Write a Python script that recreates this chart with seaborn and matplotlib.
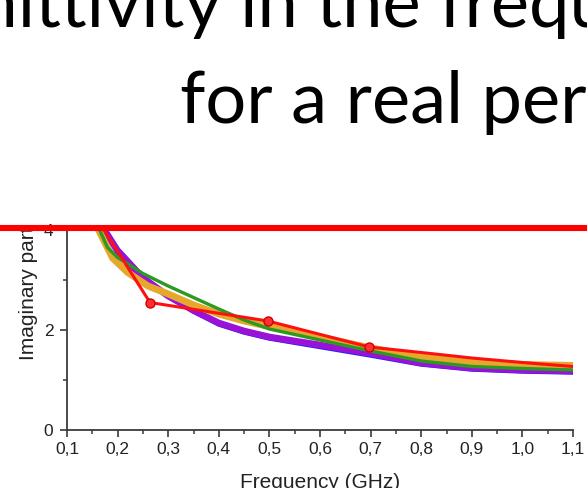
import matplotlib
matplotlib.use("Agg")
import matplotlib.pyplot as plt
import seaborn as sns
from matplotlib.lines import Line2D
from matplotlib.ticker import MultipleLocator, FuncFormatter
from matplotlib.transforms import Bbox, TransformedBbox

# ---- text ----
title_line1 = "Imaginary permittivity in the frequency domain"
title_line2 = "for a real permittivity"
x_label = "Frequency (GHz)"
y_label = "Imaginary part"

# ---- series (frequency in GHz, imaginary part) ----
blue_freq = [0.15, 0.17, 0.20, 0.25, 0.30, 0.35, 0.40, 0.45, 0.50, 0.60, 0.70, 0.80, 0.90, 1.00, 1.10]
blue_eps = [4.55, 4.10, 3.62, 3.07, 2.68, 2.37, 2.11, 1.95, 1.83, 1.66, 1.49, 1.31, 1.21, 1.17, 1.15]

purple_freq = [0.15, 0.17, 0.20, 0.25, 0.30, 0.35, 0.40, 0.45, 0.50, 0.60, 0.70, 0.80, 0.90, 1.00, 1.10]
purple_eps = [4.50, 4.06, 3.58, 3.04, 2.68, 2.39, 2.14, 1.98, 1.86, 1.70, 1.53, 1.34, 1.24, 1.20, 1.18]

orange_freq = [0.15, 0.16, 0.19, 0.22, 0.26, 0.30, 0.35, 0.40, 0.45, 0.50, 0.60, 0.70, 0.80, 0.90, 1.00, 1.10]
orange_eps = [4.30, 4.05, 3.44, 3.15, 2.88, 2.72, 2.50, 2.32, 2.18, 2.07, 1.86, 1.64, 1.46, 1.36, 1.31, 1.29]

green_freq = [0.15, 0.16, 0.18, 0.20, 0.23, 0.25, 0.30, 0.35, 0.40, 0.45, 0.50, 0.60, 0.70, 0.80, 0.90, 1.00, 1.10]
green_eps = [4.45, 4.10, 3.65, 3.45, 3.26, 3.13, 2.88, 2.65, 2.42, 2.20, 2.02, 1.80, 1.58, 1.38, 1.27, 1.23, 1.20]

red_freq = [0.15, 0.264, 0.497, 0.697, 0.80, 0.90, 1.00, 1.10]
red_eps = [4.37, 2.55, 2.18, 1.66, 1.55, 1.44, 1.35, 1.27]
red_marked = [False, True, True, True, False, False, False, False]

x_ticks = [0.1, 0.2, 0.3, 0.4, 0.5, 0.6, 0.7, 0.8, 0.9, 1.0, 1.1]
y_ticks = [0, 2, 4]

# ---- style ----
sns.set_theme(style="ticks")
plt.rcParams["font.family"] = ["Liberation Sans", "DejaVu Sans"]

W, H = 587, 488
fig = plt.figure(figsize=(W / 100, H / 100), dpi=100)
fig.patch.set_facecolor("white")

ax_left, ax_right, ax_bottom, ax_top = 67, 573, 430, 228
ax = fig.add_axes([ax_left / W, 1 - ax_bottom / H,
                   (ax_right - ax_left) / W, (ax_bottom - ax_top) / H])
ax.set_facecolor("white")

sns.lineplot(x=blue_freq, y=blue_eps, ax=ax, color="#1f1fff", lw=3.2,
             estimator=None, sort=False, zorder=2)
sns.lineplot(x=purple_freq, y=purple_eps, ax=ax, color="#9a12d6", lw=4.8,
             estimator=None, sort=False, zorder=3)
sns.lineplot(x=orange_freq, y=orange_eps, ax=ax, color="#e6a82c", lw=5.0,
             estimator=None, sort=False, zorder=4)
sns.lineplot(x=green_freq, y=green_eps, ax=ax, color="#2c9a22", lw=2.4,
             estimator=None, sort=False, zorder=5)
marker_idx = [i for i, m in enumerate(red_marked) if m]
sns.lineplot(x=red_freq, y=red_eps, ax=ax, color="#ff1010", lw=2.2,
             marker="o", markersize=6.5, markevery=marker_idx,
             markerfacecolor="#ff3030", markeredgecolor="#d00000", markeredgewidth=1.0,
             estimator=None, sort=False, zorder=6)

ax.set_xlim(x_ticks[0], x_ticks[-1])
ax.set_ylim(0, (ax_bottom - ax_top) / 50)
ax.set_xticks(x_ticks)
ax.set_yticks(y_ticks)
ax.xaxis.set_minor_locator(MultipleLocator(0.05))
ax.yaxis.set_minor_locator(MultipleLocator(1))
ax.xaxis.set_major_formatter(FuncFormatter(lambda v, p: f"{v:.1f}".replace(".", ",")))
ax.yaxis.set_major_formatter(FuncFormatter(lambda v, p: f"{v:.0f}"))

sns.despine(ax=ax)
axis_color = "#3a3a3a"
for side in ("left", "bottom"):
    ax.spines[side].set_color(axis_color)
    ax.spines[side].set_linewidth(1.3)
ax.tick_params(axis="both", which="major", direction="out", length=4.8, width=1.2,
               color=axis_color, labelsize=12.5, labelcolor="#222222")
ax.tick_params(axis="both", which="minor", direction="out", length=3.0, width=1.1,
               color=axis_color)
ax.tick_params(axis="x", which="major", pad=3.5)
ax.tick_params(axis="y", which="major", pad=5)

ax.set_xlabel(x_label, fontsize=15, color="#222222")
ax.xaxis.set_label_coords(0.5, -(473 - ax_bottom) / (ax_bottom - ax_top))
ax.set_ylabel(y_label, fontsize=15, color="#222222", ha="left", va="center",
              rotation=90, rotation_mode="anchor")
ax.yaxis.set_label_coords((29 - ax_left) / (ax_right - ax_left),
                          (ax_bottom - 360) / (ax_bottom - ax_top))
ylab = ax.yaxis.label
ylab.set_clip_on(True)
ylab.set_clip_box(TransformedBbox(Bbox([[0, 0], [1, 1 - 225 / H]]), fig.transFigure))

# ---- slide heading ----
title_font = dict(fontsize=52, family=["Lato", "DejaVu Sans"], color="black")
renderer = fig.canvas.get_renderer()
probe = fig.text(0, 0, "Imaginary permittivity in the f", **title_font)
prefix_w = probe.get_window_extent(renderer).width
probe.remove()
fig.text((465 - prefix_w) / W, 1 - 27 / H, title_line1, ha="left", va="baseline", **title_font)
fig.text(180 / W, 1 - 123 / H, title_line2, ha="left", va="baseline", **title_font)

# red rule across the slide
fig.add_artist(Line2D([0, 1], [1 - 228 / H, 1 - 228 / H], transform=fig.transFigure,
                      color="#ff0000", lw=4.4, solid_capstyle="butt", zorder=10))

fig.savefig("out.png", dpi=100, facecolor="white")
